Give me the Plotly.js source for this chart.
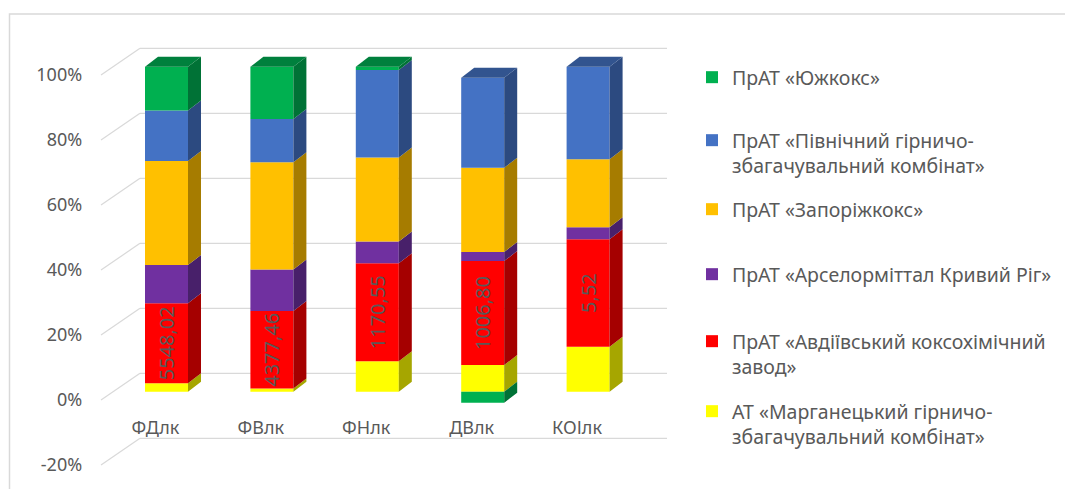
<!DOCTYPE html>
<html>
<head>
<meta charset="utf-8">
<script src="https://cdn.plot.ly/plotly-3.0.1.min.js"></script>
<style>html,body{margin:0;padding:0;background:#fff;}#chart{width:1065px;height:489px;}</style>
</head>
<body>
<div id="chart"></div>
<script>
// ---------- DATA (percent shares) ----------
const categories = ['ФДлк', 'ФВлк', 'ФНлк', 'ДВлк', 'КОІлк'];
const marganetsValues = [2.6, 1.0, 9.4, 8.2, 13.8];      // АТ «Марганецький ГЗК»
const avdiivkaValues  = [24.6, 23.8, 30.1, 32.0, 33.1];  // ПрАТ «Авдіївський КХЗ»
const arcelorValues   = [11.8, 12.8, 6.7, 2.8, 3.7];     // ПрАТ «Арселорміттал Кривий Ріг»
const zaporValues     = [32.0, 33.0, 25.9, 25.9, 20.9];  // ПрАТ «Запоріжкокс»
const pivnichValues   = [15.5, 13.3, 26.9, 27.7, 28.5];  // ПрАТ «Північний ГЗК»
const yuzhkoksValues  = [13.5, 16.1, 1.0, -3.4, 0];      // ПрАТ «Южкокс»
const avdiivkaLabels  = ['5548,02', '4377,46', '1170,55', '1006,80', '5,52'];
const seriesNames = [
  'АТ «Марганецький гірничо-<br>збагачувальний комбінат»',
  'ПрАТ «Авдіївський коксохімічний<br>завод»',
  'ПрАТ «Арселорміттал Кривий Ріг»',
  'ПрАТ «Запоріжкокс»',
  'ПрАТ «Північний гірничо-<br>збагачувальний комбінат»',
  'ПрАТ «Южкокс»'
];
const yTickValues = [-20, 0, 20, 40, 60, 80, 100];
const yTickLabels = ['-20%', '0%', '20%', '40%', '60%', '80%', '100%'];

// ---------- STYLE / GEOMETRY ----------
const W = 1065, H = 489;
const px = x => x / W, py = y => 1 - y / H;
const X0 = 113.8, X1 = 640.8, Y0 = 40, Y1 = 470;
const SCALE = 3.25;                 // px per percent
const ZERO_BAR = 391.7, ZERO_FRONT = 400, ZERO_BACK = 373.3;
const STEP = (X1 - X0) / categories.length;
const BAR_W = 43 / STEP;
const DX = 13 / STEP, DY = 10 / SCALE;
const TXT = '#595959';
const FONT = 'Noto Sans, Open Sans, DejaVu Sans, sans-serif';

const seriesValues = [marganetsValues, avdiivkaValues, arcelorValues, zaporValues, pivnichValues, yuzhkoksValues];
const frontColors = ['#ffff00', '#ff0000', '#7030a0', '#ffc000', '#4472c4', '#00b050'];
const sideColors  = ['#a6a600', '#a50000', '#48206a', '#a67c00', '#2c4a80', '#007236'];
const topColors   = ['#b8b800', '#b80000', '#532578', '#b88a00', '#32548f', '#00803d'];
const legendIds = ['legend6', 'legend5', 'legend4', 'legend3', 'legend2', 'legend'];
const legendTopPx = [392, 322, 255, 190, 121, 58];

const xs = categories.map((c, i) => i);
const traces = [];

// front faces (bars)
seriesValues.forEach((vals, s) => {
  const t = {
    type: 'bar', x: xs, y: vals, width: BAR_W, name: seriesNames[s],
    marker: {color: frontColors[s], line: {width: 0}},
    legend: legendIds[s], hoverinfo: 'y+name'
  };
  if (s === 1) {
    t.text = avdiivkaLabels;
    t.textposition = 'inside';
    t.insidetextanchor = 'middle';
    t.textangle = -90;
    t.constraintext = 'none';
    t.textfont = {color: TXT, size: 20, family: FONT};
  }
  traces.push(t);
});

// side faces and top faces computed from the stacked data
const posBase = xs.map(() => 0), negBase = xs.map(() => 0);
const topIdx = xs.map(() => -1);
seriesValues.forEach((vals, s) => {
  const sx = [], sy = [];
  vals.forEach((v, i) => {
    if (!v) return;
    let b, t;
    if (v > 0) { b = posBase[i]; t = b + v; posBase[i] = t; topIdx[i] = s; }
    else { t = negBase[i]; b = t + v; negBase[i] = b; }
    const r = i + BAR_W / 2;
    sx.push(r, r + DX, r + DX, r, r, null);
    sy.push(b, b + DY, t + DY, t, b, null);
  });
  traces.push({type: 'scatter', x: sx, y: sy, fill: 'toself', mode: 'lines',
    line: {width: 0}, fillcolor: sideColors[s], showlegend: false, hoverinfo: 'skip'});
});
xs.forEach(i => {
  const t = posBase[i], l = i - BAR_W / 2, r = i + BAR_W / 2;
  traces.push({type: 'scatter', x: [l, l + DX, r + DX, r, l], y: [t, t + DY, t + DY, t, t],
    fill: 'toself', mode: 'lines', line: {width: 0}, fillcolor: topColors[topIdx[i]],
    showlegend: false, hoverinfo: 'skip'});
});
// carrier for the percent tick-label axis
traces.push({type: 'scatter', x: [0], y: [0], yaxis: 'y2', mode: 'markers',
  marker: {opacity: 0}, showlegend: false, hoverinfo: 'skip'});

// gridlines on the back wall + receding lines
const shapes = [];
yTickValues.forEach(v => {
  const yb = ZERO_BACK - v * SCALE, yf = ZERO_FRONT - v * SCALE;
  shapes.push({type: 'line', xref: 'paper', yref: 'paper', layer: 'below',
    x0: px(140), x1: px(667), y0: py(yb), y1: py(yb), line: {color: '#d9d9d9', width: 1.2}});
  shapes.push({type: 'line', xref: 'paper', yref: 'paper', layer: 'below',
    x0: px(101), x1: px(140), y0: py(yf), y1: py(yb), line: {color: '#d9d9d9', width: 1.2}});
});
shapes.push({type: 'rect', xref: 'paper', yref: 'paper', layer: 'below',
  x0: px(9.5), x1: px(1080), y0: py(14), y1: py(500), line: {color: '#d9d9d9', width: 1.5}});

const layout = {
  width: W, height: H,
  margin: {l: 0, r: 0, t: 0, b: 0},
  paper_bgcolor: '#ffffff', plot_bgcolor: 'rgba(0,0,0,0)',
  font: {family: FONT, color: TXT, size: 18},
  barmode: 'relative',
  showlegend: true,
  xaxis: {
    domain: [px(X0), px(X1)], range: [-0.5, 4.5], anchor: 'free', position: py(415),
    tickvals: xs.map(i => i - 0.105), ticktext: categories,
    showgrid: false, zeroline: false, showline: false, ticks: '',
    tickfont: {size: 18, color: TXT, family: FONT}, fixedrange: true
  },
  yaxis: {
    domain: [py(Y1), py(Y0)],
    range: [-(Y1 - ZERO_BAR) / SCALE, (ZERO_BAR - Y0) / SCALE],
    showgrid: false, zeroline: false, showticklabels: false, ticks: '', fixedrange: true
  },
  yaxis2: {
    overlaying: 'y', side: 'left', anchor: 'free', position: px(X0),
    range: [-(Y1 - ZERO_FRONT) / SCALE, (ZERO_FRONT - Y0) / SCALE],
    tickmode: 'array', tickvals: yTickValues, ticktext: yTickLabels,
    showgrid: false, zeroline: false, showline: false,
    ticks: 'outside', ticklen: 28, tickcolor: 'rgba(0,0,0,0)',
    tickfont: {size: 18, color: TXT, family: FONT}, fixedrange: true
  },
  shapes: shapes
};
legendIds.forEach((id, s) => {
  layout[id] = {
    x: px(692), y: py(legendTopPx[s]), xanchor: 'left', yanchor: 'top',
    bgcolor: 'rgba(0,0,0,0)', valign: 'top',
    font: {size: 19.5, color: TXT, family: FONT}, itemclick: false, itemdoubleclick: false
  };
});

Plotly.newPlot('chart', traces, layout, {displayModeBar: false, staticPlot: true});
</script>
</body>
</html>
